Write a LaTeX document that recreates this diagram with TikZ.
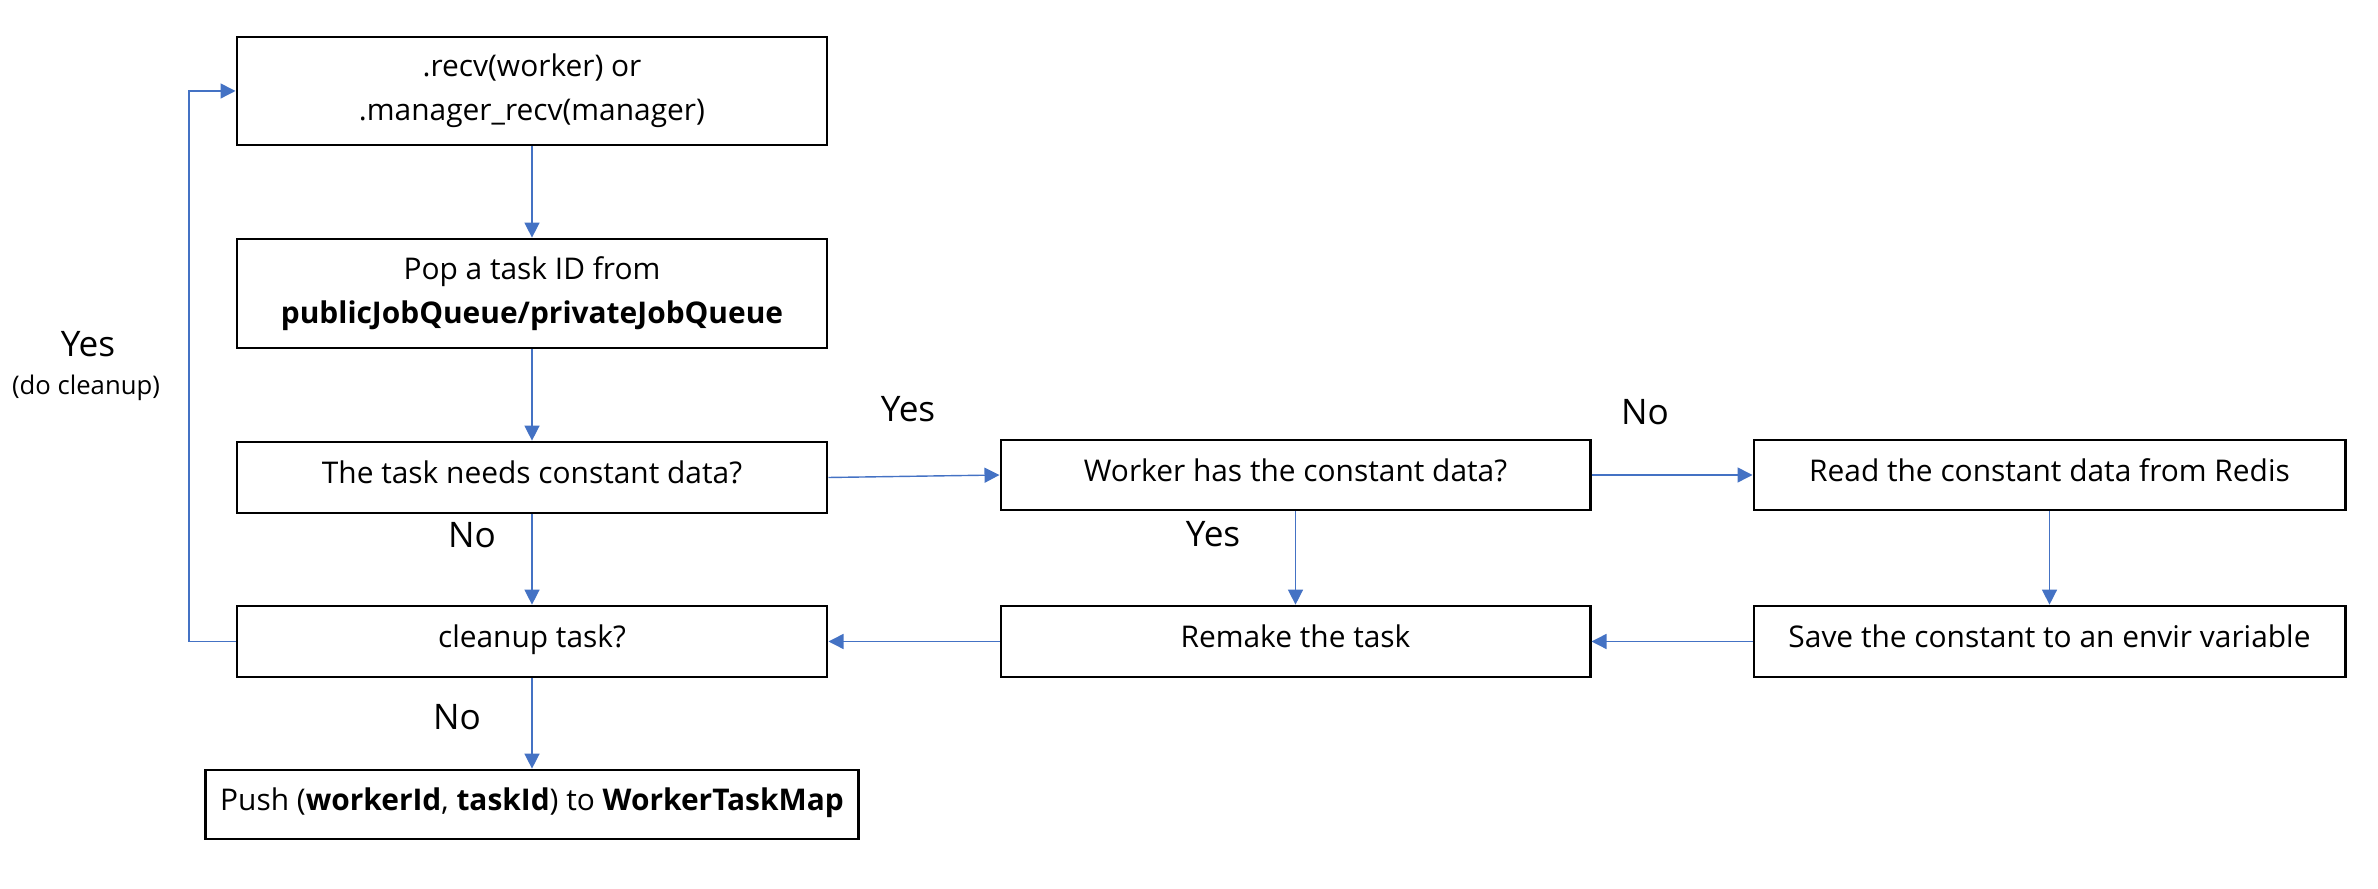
\documentclass[tikz,border=0pt]{standalone}
\usepackage{fontspec}
\setmainfont{Open Sans}
\usetikzlibrary{arrows.meta}
\definecolor{flowblue}{HTML}{4472C4}
\tikzset{
  box/.style={draw, line width=0.75pt, minimum width=5.9cm, minimum height=0.71cm,
    inner sep=0pt, align=center, font=\fontsize{8.5}{12.5}\selectfont},
  oneline/.style={box, text height=0.75em, text depth=0.4em},
  flow/.style={draw=flowblue, line width=0.4pt,
    -{Triangle[length=0.15cm, width=0.15cm, fill=flowblue]}},
  lbl/.style={font=\fontsize{10}{12}\selectfont, inner sep=0pt},
}
\begin{document}
\begin{tikzpicture}[x=0.01cm, y=-0.01cm]
        \useasboundingbox (0,0) rectangle (2378,889);

        % left column
        \node [box, minimum height=1.08cm] (recv) at (532, 91) {.recv(worker) or\\.manager\_recv(manager)};
        \node [box, minimum height=1.09cm] (pop) at (532, 293.5) {Pop a task ID from\\\textbf{publicJobQueue/privateJobQueue}};
        \node [oneline] (needs) at (532, 477.5) {The task needs constant data?};
        \node [oneline] (cleanup) at (532, 641.5) {cleanup task?};
        \node [oneline, minimum width=6.52cm, minimum height=0.69cm] (push) at (532, 804.5)
              {Push (\textbf{workerId}, \textbf{taskId}) to \textbf{WorkerTaskMap}};

        % middle and right columns
        \node [oneline, minimum width=5.89cm, minimum height=0.7cm] (worker) at (1295.5, 475) {Worker has the constant data?};
        \node [oneline, minimum width=5.89cm] (remake) at (1295.5, 641.5) {Remake the task};
        \node [oneline, minimum width=5.91cm, minimum height=0.7cm] (read) at (2049.5, 475) {Read the constant data from Redis};
        \node [oneline, minimum width=5.91cm] (save) at (2049.5, 641.5) {Save the constant to an envir variable};

        \coordinate (loop) at (189, 641.5);

        \draw [flow] (recv) -- (pop);
        \draw [flow] (pop) -- (needs);
        \draw [flow] (needs.east) -- (worker.west);
        \draw [flow] (needs) -- (cleanup);
        \draw [flow] (worker) -- (read);
        \draw [flow] (worker) -- (remake);
        \draw [flow] (read) -- (save);
        \draw [flow] (save) -- (remake);
        \draw [flow] (remake) -- (cleanup);
        \draw [flow] (cleanup) -- (push);
        \draw [flow] (cleanup.west) -- (loop) |- (recv.west);

        \node [lbl] (yesloop) at (88, 344) {Yes};
        \node [lbl, font=\fontsize{7.3}{9}\selectfont] (docleanup) at (86, 388) {(do cleanup)};
        \node [lbl] (noneeds) at (472, 535) {No};
        \node [lbl] (yesneeds) at (908, 409) {Yes};
        \node [lbl] (noworker) at (1645, 412) {No};
        \node [lbl] (yesworker) at (1213, 534) {Yes};
        \node [lbl] (nocleanup) at (457, 717) {No};
      \end{tikzpicture}
\end{document}
